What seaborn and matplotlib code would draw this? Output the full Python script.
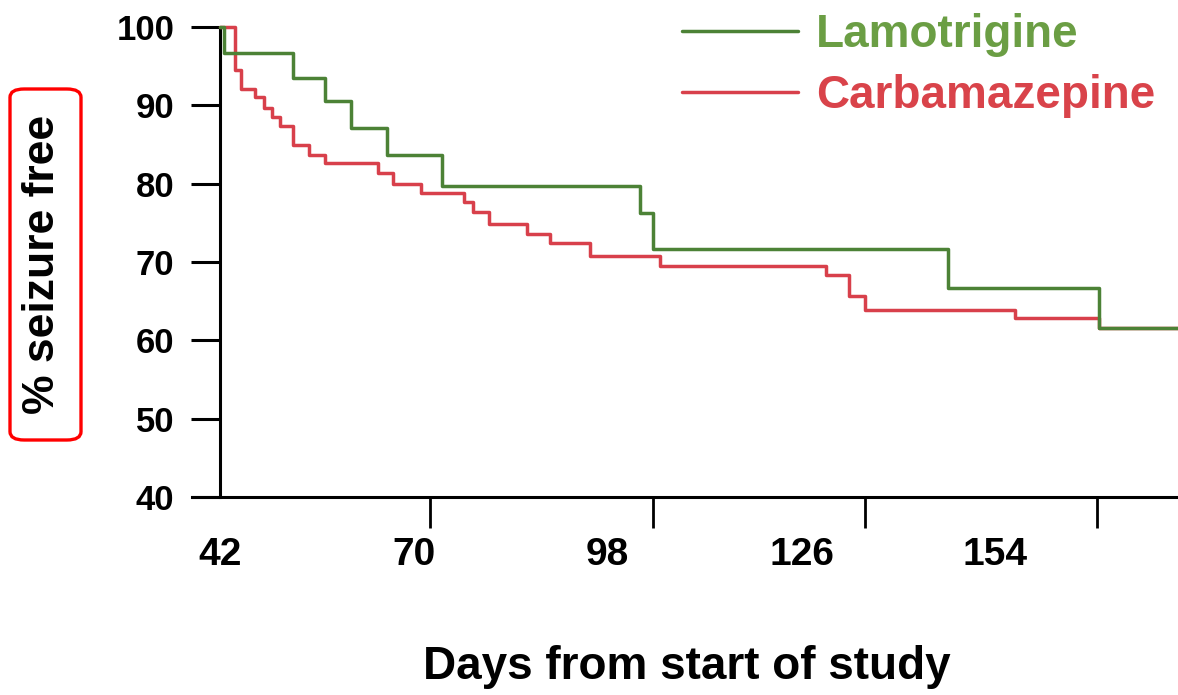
import matplotlib
matplotlib.use("Agg")
import matplotlib.pyplot as plt
from matplotlib.patches import FancyBboxPatch
import seaborn as sns
import pandas as pd

# ---- data ----
lamo_days = [42.0, 42.6, 52.5, 57.2, 60.9, 66.1, 74.0, 102.7, 104.6, 147.2, 169.0, 180.4]
lamo_pct = [100.0, 96.7, 93.5, 90.5, 87.1, 83.6, 79.7, 76.3, 71.6, 66.7, 61.6, 61.6]

carb_days = [42.0, 44.2, 45.1, 47.1, 48.3, 49.5, 50.7, 52.5, 54.8, 57.2, 64.8, 67.0,
             71.0, 77.2, 78.5, 80.9, 86.4, 89.7, 95.5, 105.5, 129.6, 132.9, 135.2,
             156.8, 169.0, 180.4]
carb_pct = [100.0, 94.5, 92.1, 91.1, 89.7, 88.5, 87.3, 84.9, 83.7, 82.6, 81.3, 80.0,
            78.8, 77.6, 76.4, 74.9, 73.6, 72.4, 70.8, 69.5, 68.3, 65.6, 63.9,
            62.8, 61.6, 61.6]

series_names = ["Lamotrigine", "Carbamazepine"]
x_tick_labels = [42, 70, 98, 126, 154]
x_tick_marks = [42, 72.3, 104.6, 135.2, 168.7]
y_ticks = [40, 50, 60, 70, 80, 90, 100]

GREEN_LINE = "#4c8236"
GREEN_TEXT = "#6b9e44"
RED_LINE = "#d8404b"
RED_TEXT = "#d9434a"

sns.set_theme(style="white")
plt.rcParams["font.family"] = ["Liberation Sans", "DejaVu Sans"]
plt.rcParams["font.weight"] = "bold"
plt.rcParams["text.color"] = "black"
plt.rcParams["xtick.color"] = "black"
plt.rcParams["ytick.color"] = "black"
plt.rcParams["xtick.labelcolor"] = "black"
plt.rcParams["ytick.labelcolor"] = "black"

W, H = 1178, 695
fig = plt.figure(figsize=(W / 100, H / 100), dpi=100)
ax = fig.add_axes([192 / W, 1 - 497 / H, (W - 192) / W, (497 - 27) / H])

df_c = pd.DataFrame({"day": carb_days, "pct": carb_pct})
df_l = pd.DataFrame({"day": lamo_days, "pct": lamo_pct})
sns.lineplot(data=df_c, x="day", y="pct", ax=ax, color=RED_LINE, lw=2.5,
             drawstyle="steps-post", estimator=None, sort=False,
             label=series_names[1], clip_on=False, zorder=3)
sns.lineplot(data=df_l, x="day", y="pct", ax=ax, color=GREEN_LINE, lw=2.5,
             drawstyle="steps-post", estimator=None, sort=False,
             label=series_names[0], clip_on=False, zorder=4)

ax.set_xlim(37.95, 180.4)
ax.set_ylim(40, 100)

for s in ["top", "right"]:
    ax.spines[s].set_visible(False)
ax.spines["left"].set_position(("data", 42))
for s in ["left", "bottom"]:
    ax.spines[s].set_color("black")
    ax.spines[s].set_linewidth(2.2)

ax.set_yticks(y_ticks)
ax.set_yticklabels([str(v) for v in y_ticks], fontsize=25, fontweight="bold",
                   color="black")
ax.tick_params(axis="y", which="major", direction="out", length=21, width=2.2,
               pad=12, color="black", labelcolor="black", left=True)

ax.set_xticks(x_tick_labels)
ax.set_xticklabels([str(v) for v in x_tick_labels], fontsize=28, fontweight="bold",
                   color="black")
ax.tick_params(axis="x", which="major", length=0, pad=29, bottom=True,
               labelcolor="black")
ax.set_xticks(x_tick_marks, minor=True)
ax.tick_params(axis="x", which="minor", direction="out", length=22, width=2.0,
               color="black", bottom=True)

ax.set_xlabel("")
ax.set_ylabel("")
ax.grid(False)

fig.text(687 / W, 1 - 667 / H, "Days from start of study", fontsize=33,
         fontweight="bold", ha="center", va="center", color="black")

fig.text(43 / W, 1 - 264 / H, "% seizure free", fontsize=32, fontweight="bold",
         rotation=90, ha="center", va="center", color="black")
box = FancyBboxPatch((10 / W, 1 - 440 / H), (81 - 10) / W, (440 - 89) / H,
                     boxstyle="round,pad=0,rounding_size=0.012",
                     transform=fig.transFigure, fill=False, edgecolor="#ff0000",
                     linewidth=2.4)
fig.patches.append(box)

handles, labels = ax.get_legend_handles_labels()
order = [labels.index(n) for n in series_names]
leg = ax.legend([handles[i] for i in order], [labels[i] for i in order],
                loc="center left", bbox_to_anchor=(682 / W, 1 - 65.5 / H),
                bbox_transform=fig.transFigure, frameon=False,
                prop={"size": 33, "weight": "bold"}, handlelength=2.52,
                handletextpad=0.41, labelspacing=0.36, borderpad=0,
                borderaxespad=0)
for txt, col in zip(leg.get_texts(), [GREEN_TEXT, RED_TEXT]):
    txt.set_color(col)
for ln in leg.get_lines():
    ln.set_linewidth(2.5)

fig.savefig("out.png", dpi=100, facecolor="white")
